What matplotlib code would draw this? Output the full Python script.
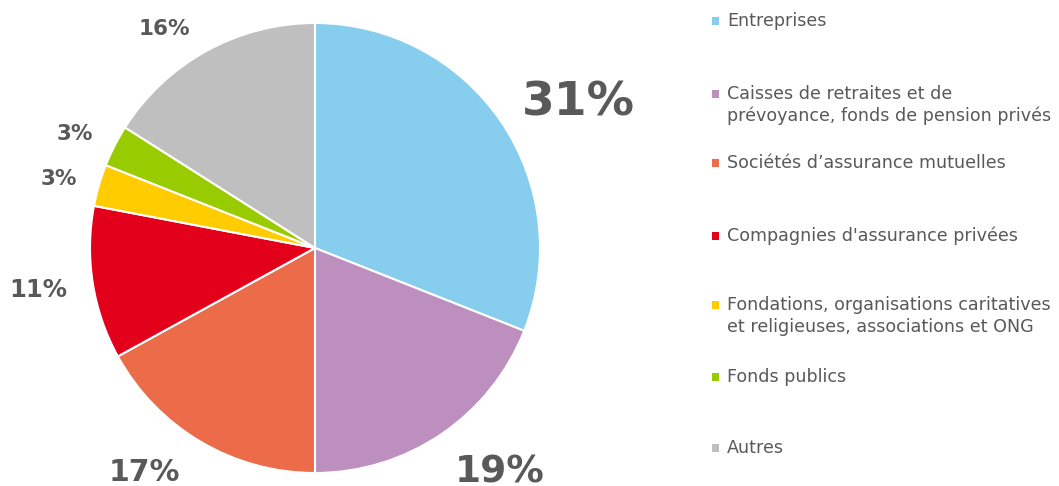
import matplotlib.pyplot as plt
from matplotlib.patches import Rectangle

# donnees
categories = ["Entreprises",
              "Caisses de retraites et de\nprévoyance, fonds de pension privés",
              "Sociétés d\u2019assurance mutuelles",
              "Compagnies d'assurance privées",
              "Fondations, organisations caritatives\net religieuses, associations et ONG",
              "Fonds publics",
              "Autres"]
valeurs = [31, 19, 17, 11, 3, 3, 16]
couleurs = ["#87CEEE", "#BC8FBF", "#EC6C4A", "#E2001A", "#FFCC00", "#99CC00", "#BFBFBF"]

# position (pixels) et taille des etiquettes en %
pos_etiq = [(578, 383), (500, 14), (144, 14), (38, 196), (59, 307), (75, 352), (164, 457)]
taille_etiq = [34, 27, 21.5, 17.5, 15.5, 15.5, 15.5]
# legende : centre vertical du bloc de texte, et de la premiere ligne
leg_y = [465, 381, 323, 250, 170, 109, 38]
leg_y1 = [465, 392, 323, 250, 181, 109, 38]

gris = "#595959"

fig = plt.figure(figsize=(10.59, 4.86), dpi=100)
ax = fig.add_axes([0, 0, 1, 1])

ax.pie(valeurs, colors=couleurs, startangle=90, counterclock=False,
       center=(315, 238), radius=225, frame=True,
       wedgeprops=dict(edgecolor='white', linewidth=1.5))
ax.set_xlim(0, 1059)
ax.set_ylim(0, 486)
ax.set_aspect('auto')
ax.axis('off')

for v, (x, y), s in zip(valeurs, pos_etiq, taille_etiq):
    ax.text(x, y, "%d%%" % v, ha='center', va='center', fontsize=s,
            fontweight='bold', color=gris)

for cat, c, y, y1 in zip(categories, couleurs, leg_y, leg_y1):
    ax.add_patch(Rectangle((712, y1 - 4), 7, 8, facecolor=c, edgecolor='none'))
    ax.text(727, y, cat, ha='left', va='center', fontsize=12.6,
            color=gris, linespacing=1.25)

plt.savefig('out.png', dpi=100)
